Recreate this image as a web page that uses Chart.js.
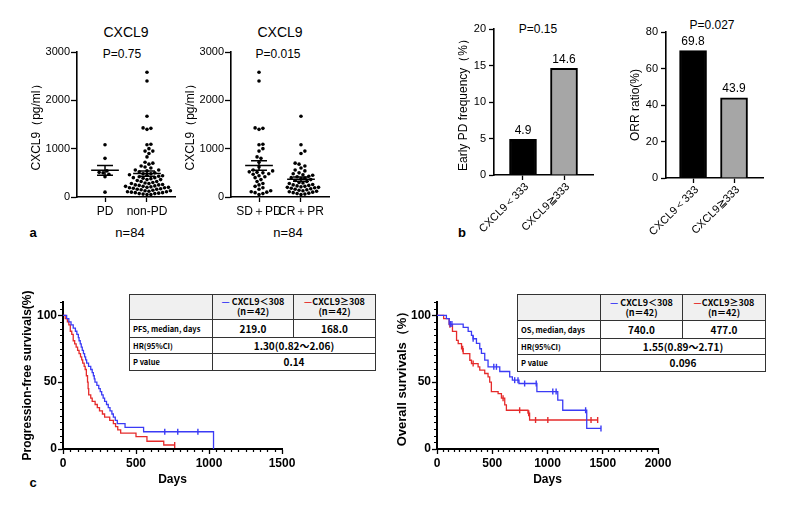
<!DOCTYPE html>
<html><head><meta charset="utf-8">
<script src="https://cdn.jsdelivr.net/npm/chart.js@4.4.1/dist/chart.umd.min.js"></script>
<style>
body{margin:0;background:#fff;width:785px;height:509px;position:relative;overflow:hidden;font-family:"Liberation Sans",Arial,sans-serif;color:#000;}
.c{position:absolute;transform:translate(-50%,-50%);white-space:nowrap;line-height:1;}
canvas{position:absolute;}
table.tb{position:absolute;border-collapse:collapse;table-layout:fixed;font-family:"Noto Sans CJK JP","Liberation Sans",sans-serif;z-index:5;background:#fff;}
table.tb td{border:1px solid #333;padding:0 3px;text-align:center;font-size:10px;font-weight:bold;line-height:10px;overflow:hidden;white-space:nowrap;}
table.tb td.l{text-align:left;font-size:7.5px;}
table.tb tr.h td{background:#f0f0f0;font-size:9px;line-height:10px;}
</style></head><body>

<div class="c" style="left:126px;top:32px;font-size:14px;">CXCL9</div>
<div class="c" style="left:280px;top:32px;font-size:14px;">CXCL9</div>
<div class="c" style="left:122px;top:54px;font-size:12px;">P=0.75</div>
<div class="c" style="left:278px;top:54px;font-size:12px;">P=0.015</div>
<div class="c" style="left:538px;top:29px;font-size:12px;">P=0.15</div>
<div class="c" style="left:712px;top:25px;font-size:12px;">P=0.027</div>
<div class="c" style="left:33px;top:232px;font-size:13px;font-weight:bold;">a</div>
<div class="c" style="left:130px;top:232px;font-size:13px;">n=84</div>
<div class="c" style="left:288px;top:232px;font-size:13px;">n=84</div>
<div class="c" style="left:462px;top:232px;font-size:13px;font-weight:bold;">b</div>
<div class="c" style="left:33px;top:482px;font-size:13px;font-weight:bold;">c</div>
<div class="c" style="left:190px;top:309px;font-size:13px;">PFS</div>
<div class="c" style="left:540px;top:309px;font-size:13px;">OS</div>

<table class="tb" style="left:129px;top:294px;width:246px;">
<colgroup><col style="width:83px"><col style="width:81px"><col style="width:82px"></colgroup>
<tr class="h" style="height:25px"><td></td><td><span style="color:#3b3bf5">—</span> CXCL9＜308<br>(n＝42)</td><td><span style="color:#e52b2b">—</span>CXCL9≥308<br>(n＝42)</td></tr>
<tr style="height:18px"><td class="l">PFS, median, days</td><td>219.0</td><td>168.0</td></tr>
<tr style="height:16px"><td class="l">HR(95%CI)</td><td colspan="2">1.30(0.82～2.06)</td></tr>
<tr style="height:17px"><td class="l">P value</td><td colspan="2">0.14</td></tr>
</table>

<table class="tb" style="left:517px;top:294px;width:248px;">
<colgroup><col style="width:83px"><col style="width:82px"><col style="width:83px"></colgroup>
<tr class="h" style="height:26px"><td></td><td><span style="color:#3b3bf5">—</span> CXCL9＜308<br>(n＝42)</td><td><span style="color:#e52b2b">—</span>CXCL9≥308<br>(n＝42)</td></tr>
<tr style="height:18px"><td class="l">OS, median, days</td><td>740.0</td><td>477.0</td></tr>
<tr style="height:16px"><td class="l">HR(95%CI)</td><td colspan="2">1.55(0.89～2.71)</td></tr>
<tr style="height:17px"><td class="l">P value</td><td colspan="2">0.096</td></tr>
</table>

<script>
// ---------- DATA ----------
const scatterCats1 = ['PD', 'non-PD'];
const scatterCats2 = ['SD＋PD', 'CR＋PR'];
const pdValues = [1080, 800, 540, 510, 500, 470, 420, 100];
const sdValues = [2580, 2400, 1430, 1420, 1400, 1090, 1000, 950, 830, 720, 620, 560, 520, 480,
  440, 400, 360, 320, 280, 250, 220, 190, 160, 130, 110, 90, 70, 50];
const crprValues = [1670, 1080, 950, 900, 700, 680, 640, 600, 560, 540, 500, 480, 460, 450, 430, 420,
  400, 390, 380, 360, 340, 320, 300, 290, 280, 260, 250, 240, 230, 220, 210, 200, 200, 190, 180, 170,
  160, 150, 140, 130, 120, 110, 100, 90, 80, 70, 60, 50];

const barCats = ['CXCL9＜333', 'CXCL9≧333'];
const earlyPDFreq = [4.9, 14.6];
const orrRatio = [69.8, 43.9];

const pfsLowDays = [0,25,40,55,70,85,95,105,110,118,125,132,140,148,155,162,175,190,200,208,214,219,232,245,255,265,275,285,298,310,322,335,345,358,372,425,552,1031];
const pfsLowSurv = [100,97.6,95.2,92.9,90.5,88.1,85.7,83.3,81,78.6,76.2,73.8,71.4,69,66.7,64.3,61.9,59.5,57.1,54.8,52.4,50,47.6,45.2,42.9,40.5,38.1,35.7,33.3,31,28.6,26.2,23.8,21.4,19,16.2,12.9,0];
const pfsLowCensor = [697, 786, 924];
const pfsHighDays = [0,15,30,40,50,60,70,80,90,100,110,120,128,135,145,152,160,168,172,176,190,200,220,235,250,270,285,320,345,360,375,395,500,575,690,765];
const pfsHighSurv = [100,97.6,95.2,92.9,88.1,85.7,81,78.6,76.2,73.8,71.4,69,66.7,64.3,61.9,59.5,54.8,50,45.2,40.5,38.1,35.7,33.3,31,28.6,26.2,23.8,21.4,19,16.7,14.3,11.9,9.2,5.8,3.0,3.0];
const pfsHighCensor = [765];

const osLowDays = [0,85,110,237,282,312,327,357,387,402,432,462,568,658,682,742,904,1093,1138,1355,1484];
const osLowSurv = [100,97.5,93.5,91,88,85,82.5,79,75,71.5,66.5,61.5,58,54,51.5,49,43,36.5,29,15.4,15.4];
const osLowCensor = [120,135,327,514,538,703,733,793,898,1048,1078,1345,1484];
const osHighDays = [0,60,110,140,177,192,222,237,297,312,372,387,432,462,477,492,553,583,613,628,823,838,1454];
const osHighSurv = [100,97.6,93,88,81.3,78.9,75,71.4,66.4,63.9,61.5,59,56.5,54,50,43,41.5,38,33,29,26.8,21.7,21.7];
const osHighCensor = [117,232,327,598,748,830,892,1003,1394,1454];

// ---------- HELPERS ----------
Chart.defaults.font.family = '"Liberation Sans", Arial, sans-serif';
Chart.defaults.color = '#000';
Chart.defaults.animation = false;

const BLUE = '#3b3bf5', RED = '#e52b2b';
const plainNum = (v) => String(v);

function mk(left, top, w, h, cfg) {
  const c = document.createElement('canvas');
  c.width = w; c.height = h;
  c.style.left = left + 'px'; c.style.top = top + 'px';
  c.style.width = w + 'px'; c.style.height = h + 'px';
  document.body.appendChild(c);
  cfg.options = Object.assign({responsive: false, animation: false, devicePixelRatio: 1}, cfg.options);
  return new Chart(c, cfg);
}

function yAxis(o) {
  return {
    type: 'linear', position: 'left', min: o.min, max: o.max,
    ticks: {stepSize: o.step, font: o.font, color: '#000', padding: o.labelPad, callback: plainNum},
    afterBuildTicks: o.ticksList ? (s) => { s.ticks = o.ticksList.map(v => ({value: v})); } : undefined,
    afterFit: (s) => { s.width = o.width; },
    grid: {drawOnChartArea: false, drawTicks: true, tickLength: o.tickLen, tickColor: '#000', tickWidth: 1.3},
    border: {color: '#000', width: o.bw || 1.6},
    title: {display: true, text: o.title, font: o.titleFont, color: '#000', padding: {top: o.titlePad, bottom: 0}}
  };
}
function xCatAxis(o) {
  return {
    type: 'linear', position: 'bottom', min: o.min, max: o.max, offset: false,
    afterBuildTicks: (s) => { s.ticks = o.labels.map((l, i) => ({value: i})); },
    ticks: {display: o.showLabels !== false, callback: (v, i) => o.labels[i], font: o.font, color: '#000', padding: o.labelPad,
      maxRotation: 0, minRotation: 0, autoSkip: false},
    afterFit: (s) => { s.height = o.height; },
    grid: {drawOnChartArea: false, tickLength: o.tickLen, tickColor: '#000', tickWidth: 1.3, offset: false},
    border: {color: '#000', width: 1.6}
  };
}

// deterministic beeswarm layout (pixel space -> x data units)
function swarm(vals, center, pxPerX, pxPerY, d) {
  const order = vals.map((v, i) => i).sort((a, b) => vals[a] - vals[b]);
  const placed = [], out = [];
  for (const i of order) {
    const py = vals[i] * pxPerY;
    let off = 0;
    for (let n = 0; n < 400; n++) {
      const k = Math.ceil(n / 2) * (n % 2 ? 1 : -1);
      off = k * d * 0.5;
      let ok = true;
      for (const p of placed) {
        const dx = off - p.x, dy = py - p.y;
        if (dx * dx + dy * dy < d * d) { ok = false; break; }
      }
      if (ok) break;
    }
    placed.push({x: off, y: py});
    out.push({x: center + off / pxPerX, y: vals[i]});
  }
  return out;
}
function meanSem(vals) {
  const n = vals.length, m = vals.reduce((a, b) => a + b, 0) / n;
  const sd = Math.sqrt(vals.reduce((a, b) => a + (b - m) * (b - m), 0) / (n - 1));
  return {m, s: sd / Math.sqrt(n)};
}
function errLines(c, vals) {
  const {m, s} = meanSem(vals);
  return [
    {x: c - 0.33, y: m}, {x: c + 0.33, y: m}, {x: c, y: null},
    {x: c, y: m - s}, {x: c, y: m + s}, {x: c, y: null},
    {x: c - 0.19, y: m + s}, {x: c + 0.19, y: m + s}, {x: c, y: null},
    {x: c - 0.19, y: m - s}, {x: c + 0.19, y: m - s}
  ];
}

function scatterChart(left, top, cats, groups, ylabel) {
  const pxX = 42, pxY = 145 / 3000;
  const ds = [];
  groups.forEach((g, i) => {
    ds.push({data: swarm(g, i, pxX, pxY, 3.9), pointRadius: 1.8, pointBackgroundColor: '#000', pointBorderWidth: 0, showLine: false});
    ds.push({data: errLines(i, g), showLine: true, spanGaps: false, pointRadius: 0, borderColor: '#000', borderWidth: 1.5});
  });
  return mk(left, top, 185, 210, {
    type: 'scatter',
    data: {datasets: ds},
    options: {
      layout: {padding: {left: 0, top: 32, right: 10, bottom: 0}, autoPadding: false},
      plugins: {legend: {display: false}, tooltip: {enabled: false}},
      scales: {
        x: xCatAxis({min: -0.667, max: 1.667, labels: cats, font: {size: 12}, labelPad: 2, height: 33, tickLen: 5}),
        y: yAxis({min: 0, max: 3000, step: 1000, font: {size: 11}, labelPad: 1, width: 77, tickLen: 6,
          title: ylabel, titleFont: {size: 12}, titlePad: 29})
      }
    }
  });
}

const barLabels = {
  id: 'barLabels',
  afterDatasetsDraw(chart) {
    const ctx = chart.ctx, meta = chart.getDatasetMeta(0);
    ctx.save(); ctx.font = '12px "Liberation Sans", Arial'; ctx.fillStyle = '#000';
    ctx.textAlign = 'center'; ctx.textBaseline = 'bottom';
    meta.data.forEach((el, i) => {
      const v = chart.data.datasets[0].data[i].y;
      ctx.fillText(v.toFixed(1), el.x, el.y - 3);
    });
    ctx.restore();
  }
};
// rotated category labels, anchored at each tick of the x scale
const rotLabels = {
  id: 'rotLabels',
  afterDraw(chart) {
    const x = chart.scales.x, y = chart.scales.y, ctx = chart.ctx;
    ctx.save(); ctx.font = '11px "Liberation Sans", Arial'; ctx.fillStyle = '#000';
    ctx.textAlign = 'right'; ctx.textBaseline = 'middle';
    barCats.forEach((l, i) => {
      const px = x.getPixelForValue(i);
      ctx.save(); ctx.translate(px + 4, y.bottom + 10); ctx.rotate(-Math.PI / 4);
      ctx.fillText(l, 0, 0); ctx.restore();
    });
    ctx.restore();
  }
};

function barChart(left, top, w, h, vals, o) {
  return mk(left, top, w, h, {
    type: 'bar',
    data: {datasets: [{data: vals.map((v, i) => ({x: i, y: v})), backgroundColor: ['#000', '#a6a6a6'],
      borderColor: '#000', borderWidth: 2, barThickness: 27}]},
    plugins: [barLabels, rotLabels],
    options: {
      layout: {padding: {left: 0, top: o.padTop, right: o.padRight, bottom: 0}, autoPadding: false},
      plugins: {legend: {display: false}, tooltip: {enabled: false}},
      scales: {
        x: xCatAxis({min: o.xmin, max: o.xmax, labels: barCats, font: {size: 11}, labelPad: 2, height: o.xh, tickLen: 5, showLabels: false}),
        y: yAxis({min: 0, max: o.ymax, step: o.step, font: {size: 11}, labelPad: 3, width: o.yw, tickLen: 5,
          title: o.title, titleFont: {size: 12}, titlePad: o.titlePad})
      }
    }
  });
}

const minorTicks = {
  id: 'minorTicks',
  afterDraw(chart, args, o) {
    const {ctx} = chart, x = chart.scales.x, y = chart.scales.y;
    ctx.save(); ctx.strokeStyle = '#000'; ctx.lineWidth = 1.2; ctx.beginPath();
    for (let v = x.min; v <= x.max + 1e-6; v += o.xStep) {
      if (Math.abs(v % o.xMajor) < 1e-6) continue;
      const px = Math.round(x.getPixelForValue(v)) + 0.5;
      ctx.moveTo(px, y.bottom); ctx.lineTo(px, y.bottom + o.len);
    }
    for (let v = y.min; v <= y.max + 1e-6; v += o.yStep) {
      if (Math.abs(v % o.yMajor) < 1e-6) continue;
      const py = Math.round(y.getPixelForValue(v)) + 0.5;
      ctx.moveTo(x.left, py); ctx.lineTo(x.left - o.len, py);
    }
    ctx.stroke(); ctx.restore();
  }
};

function stepAt(days, surv, t) {
  let s = surv[0];
  for (let i = 0; i < days.length; i++) if (days[i] <= t) s = surv[i];
  return s;
}
function kmSets(days, surv, censor, color) {
  return [
    {data: days.map((d, i) => ({x: d, y: surv[i]})), stepped: 'before', borderColor: color, borderWidth: 1.3, pointRadius: 0, fill: false},
    {data: censor.map(t => ({x: t, y: stepAt(days, surv, t)})), showLine: false, pointStyle: 'line', rotation: 90,
      pointRadius: 3, borderColor: color, pointBorderColor: color, pointBorderWidth: 1.4}
  ];
}

function kmChart(left, top, w, h, sets, o) {
  return mk(left, top, w, h, {
    type: 'line',
    data: {datasets: sets},
    plugins: [minorTicks],
    options: {
      layout: {padding: {left: 0, top: 12, right: o.padRight, bottom: 0}, autoPadding: false},
      plugins: {legend: {display: false}, tooltip: {enabled: false},
        minorTicks: {xStep: 50, xMajor: 500, yStep: 5, yMajor: 50, len: 3}},
      scales: {
        x: {type: 'linear', min: 0, max: o.xmax, ticks: {stepSize: 500, font: {size: 12, weight: 'bold'}, color: '#000', padding: 2, callback: plainNum},
          afterFit: (s) => { s.height = 41; },
          grid: {drawOnChartArea: false, tickLength: 5, tickColor: '#000', tickWidth: 1.3},
          border: {color: '#000', width: 2},
          title: {display: true, text: 'Days', font: {size: 12, weight: 'bold'}, color: '#000', padding: {top: 0, bottom: 3}}},
        y: yAxis({min: 0, max: 110, ticksList: [0, 50, 100], font: {size: 12, weight: 'bold'}, labelPad: 1, width: o.yw, tickLen: 5,
          title: o.title, titleFont: {size: o.titleSize, weight: 'bold'}, titlePad: o.titlePad, bw: 2})
      }
    }
  });
}

// ---------- BUILD ----------
const nonPD = sdValues.concat(crprValues);
const sdpd = sdValues.concat(pdValues);
scatterChart(0, 20, scatterCats1, [pdValues, nonPD], 'CXCL9（pg/ml）');
scatterChart(154, 20, scatterCats2, [sdpd, crprValues], 'CXCL9（pg/ml）');

barChart(400, 0, 200, 240, earlyPDFreq, {padTop: 29, padRight: 7, xh: 65, yw: 94, xmin: -0.707, xmax: 1.707,
  ymax: 20, step: 5, title: 'Early PD frequency（%）', titlePad: 56});
barChart(590, 0, 195, 240, orrRatio, {padTop: 32, padRight: 22, xh: 62, yw: 76, xmin: -0.66, xmax: 1.707,
  ymax: 80, step: 20, title: 'ORR ratio(%)', titlePad: 38});

kmChart(0, 290, 300, 200,
  kmSets(pfsLowDays, pfsLowSurv, pfsLowCensor, BLUE).concat(kmSets(pfsHighDays, pfsHighSurv, pfsHighCensor, RED)),
  {xmax: 1500, yw: 63, padRight: 18, title: 'Progression-free survivals(%)', titleSize: 12, titlePad: 20});
kmChart(385, 290, 290, 200,
  kmSets(osLowDays, osLowSurv, osLowCensor, BLUE).concat(kmSets(osHighDays, osHighSurv, osHighCensor, RED)),
  {xmax: 2000, yw: 52, padRight: 17, title: 'Overall survivals（%）', titleSize: 13, titlePad: 10});
</script>
</body></html>
